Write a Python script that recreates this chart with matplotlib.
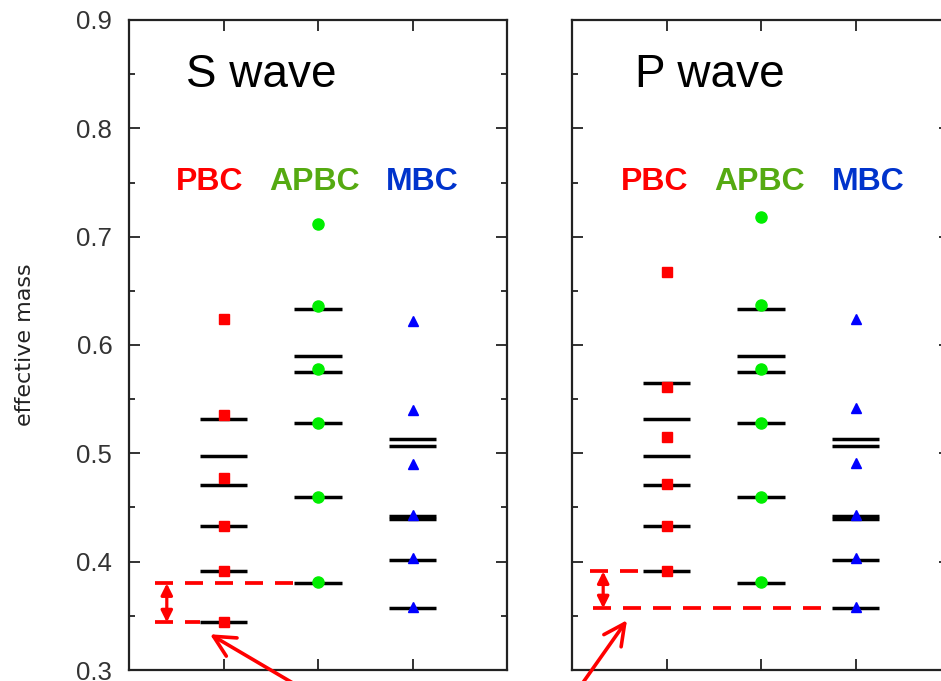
import numpy as np
import matplotlib
matplotlib.use('Agg')
import matplotlib.pyplot as plt
from matplotlib.ticker import MultipleLocator

plt.rcParams['font.family'] = ['Liberation Sans', 'DejaVu Sans']

# boundary conditions (x positions 1, 2, 3)
bc_names = ['PBC', 'APBC', 'MBC']
bc_x = [1, 2, 3]

# S wave: measured effective masses (points) and expected levels (bars)
s_pbc_pts = [0.624, 0.535, 0.477, 0.433, 0.391, 0.344]
s_pbc_lev = [0.532, 0.498, 0.471, 0.433, 0.391, 0.344]
s_apbc_pts = [0.712, 0.636, 0.5775, 0.528, 0.460, 0.381]
s_apbc_lev = [0.633, 0.590, 0.575, 0.528, 0.460, 0.380]
s_mbc_pts = [0.622, 0.540, 0.490, 0.443, 0.403, 0.358]
s_mbc_lev = [0.513, 0.507, 0.442, 0.439, 0.402, 0.357]

# P wave
p_pbc_pts = [0.667, 0.5615, 0.515, 0.472, 0.433, 0.391]
p_pbc_lev = [0.565, 0.532, 0.498, 0.471, 0.433, 0.391]
p_apbc_pts = [0.718, 0.637, 0.5775, 0.528, 0.460, 0.381]
p_apbc_lev = [0.633, 0.590, 0.575, 0.528, 0.460, 0.380]
p_mbc_pts = [0.624, 0.5415, 0.491, 0.443, 0.403, 0.358]
p_mbc_lev = [0.513, 0.507, 0.442, 0.439, 0.402, 0.357]

mk_style = [('s', '#ff0000', 7.5), ('o', '#00ee00', 8), ('^', '#0000ff', 7)]
lab_colors = ['#ff0000', '#55aa11', '#0033cc']
red = '#ff0000'
dash = (0, (4.8, 3.2))

fig = plt.figure(figsize=(9.41, 6.81), dpi=100)
axL = fig.add_axes([129/941, 11/681, 378/941, 650/681])
axR = fig.add_axes([572/941, 11/681, 378/941, 650/681])


def setup(ax, show_labels):
    ax.set_xlim(0, 4)
    ax.set_ylim(0.3, 0.9)
    ax.set_xticks(bc_x)
    ax.xaxis.set_ticklabels([])
    ax.yaxis.set_major_locator(MultipleLocator(0.1))
    ax.yaxis.set_minor_locator(MultipleLocator(0.05))
    ax.tick_params(which='both', direction='in', top=True, right=True,
                   width=1.3, color='#222222', labelsize=18.5, labelcolor='#333333', pad=12)
    ax.tick_params(which='major', length=8)
    ax.tick_params(which='minor', length=4.5)
    if not show_labels:
        ax.yaxis.set_ticklabels([])
    for sp in ax.spines.values():
        sp.set_linewidth(1.6)
        sp.set_color('#222222')


def draw_panel(ax, pts, levs, title, title_x, lab_x):
    for xx, p, lv, (m, c, ms) in zip(bc_x, pts, levs, mk_style):
        ax.hlines(lv, xx - 0.25, xx + 0.25, color='black', lw=2.5, zorder=2)
        ax.plot([xx] * len(p), p, ls='none', marker=m, color=c, ms=ms,
                mec=c, zorder=3)
    ax.text(title_x, 0.849, title, fontsize=33, ha='left', va='center')
    for lx, name, c in zip(lab_x, bc_names, lab_colors):
        ax.text(lx, 0.75, name, fontsize=23, fontweight='bold', color=c,
                ha='center', va='center')


setup(axL, True)
setup(axR, False)

draw_panel(axL, [s_pbc_pts, s_apbc_pts, s_mbc_pts],
           [s_pbc_lev, s_apbc_lev, s_mbc_lev], 'S wave', 0.60, [0.85, 1.96, 3.10])
draw_panel(axR, [p_pbc_pts, p_apbc_pts, p_mbc_pts],
           [p_pbc_lev, p_apbc_lev, p_mbc_lev], 'P wave', 0.67, [0.87, 1.98, 3.13])

axL.set_ylabel('effective mass', fontsize=16, family='DejaVu Sans',
               color='#222222', labelpad=30)

# gap between lowest PBC and lowest APBC level (S wave)
s_lo, s_hi = min(s_pbc_lev), min(s_apbc_lev)
axL.hlines(s_hi, 0.275, 1.80, color=red, lw=2.7, linestyles=[dash], zorder=4)
axL.hlines(s_lo, 0.275, 0.75, color=red, lw=2.7, linestyles=[dash], zorder=4)
axL.annotate('', xy=(0.40, s_lo), xytext=(0.40, s_hi),
             arrowprops=dict(arrowstyle='<|-|>', color=red, lw=2.3,
                             mutation_scale=17, shrinkA=0, shrinkB=0))
axL.annotate('', xy=(0.857, 0.333), xytext=(1.86, 0.2815),
             arrowprops=dict(arrowstyle='->', color=red, lw=2.6,
                             mutation_scale=38, shrinkA=0, shrinkB=0),
             annotation_clip=False)

# gap between lowest MBC and lowest PBC level (P wave)
p_lo, p_hi = min(p_mbc_lev), min(p_pbc_lev)
axR.hlines(p_hi, 0.19, 0.83, color=red, lw=2.7, linestyles=[dash], zorder=4)
axR.hlines(p_lo, 0.22, 2.75, color=red, lw=2.7, linestyles=[dash], zorder=4)
axR.annotate('', xy=(0.33, p_lo), xytext=(0.33, p_hi),
             arrowprops=dict(arrowstyle='<|-|>', color=red, lw=2.3,
                             mutation_scale=17, shrinkA=0, shrinkB=0))
axR.annotate('', xy=(0.582, 0.346), xytext=(0.06, 0.2815),
             arrowprops=dict(arrowstyle='->', color=red, lw=2.6,
                             mutation_scale=38, shrinkA=0, shrinkB=0),
             annotation_clip=False)

fig.savefig('out.png', dpi=100)
